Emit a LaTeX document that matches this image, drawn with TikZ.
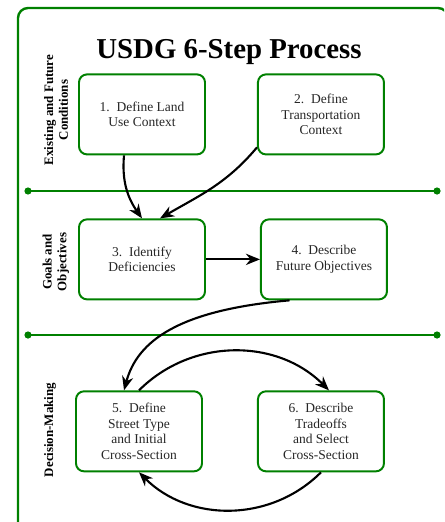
\documentclass[tikz,border=0pt]{standalone}
\usepackage{fontspec}
\setmainfont{Liberation Serif}
\usetikzlibrary{positioning,arrows.meta}

\begin{document}
\begin{tikzpicture}[
  node distance=1.3cm,
  stepbox/.style={rectangle, draw=green!50!black, line width=1.4pt, minimum width=3.15cm, minimum height=2cm, rounded corners=0.2cm, align=center, text=black!85, font=\fontsize{9.6}{11}\selectfont},
  phase/.style={rotate=90, align=center, font=\fontsize{9.2}{10.5}\selectfont\bfseries},
  divider/.style={draw=green!50!black, line width=1.7pt},
  flow/.style={-{Stealth[length=10pt,width=8pt]}, line width=1.5pt}
]
\useasboundingbox (0,0) rectangle (11.1,-13.05);
\clip (0,0) rectangle (11.1,-13.05);
\draw[divider, rounded corners=0.25cm] (0.45,-0.2) rectangle (11.2,-14);

\node[font=\fontsize{20.5}{24}\selectfont\bfseries] (title) at (5.725,-1.3) {USDG 6-Step Process};

\node[stepbox] (landuse) at (3.55,-2.86) {1.\ \ Define Land\\Use Context};
\node[stepbox, right=1.275cm of landuse] (transport) {2.\ \ Define\\Transportation\\Context};
\node[stepbox, below=1.575cm of landuse] (deficiency) {3.\ \ Identify\\Deficiencies};
\node[stepbox, right=1.35cm of deficiency] (objective) {4.\ \ Describe\\Future Objectives};
\node[stepbox, below=2.25cm of deficiency, xshift=-0.075cm] (streettype) {5.\ \ Define\\Street Type\\and Initial\\Cross-Section};
\node[stepbox, right=1.35cm of streettype] (tradeoff) {6.\ \ Describe\\Tradeoffs\\and Select\\Cross-Section};

\node[phase] (existing) at (1.4,-2.75) {Existing and Future\\Conditions};
\node[phase] (goals) at (1.4,-6.55) {Goals and\\Objectives};
\node[phase] (decision) at (1.25,-10.75) {Decision-Making};

% phase dividers
\coordinate (div1a) at (0.7,-4.775);
\coordinate (div1b) at (10.925,-4.775);
\coordinate (div2a) at (0.7,-8.375);
\coordinate (div2b) at (10.925,-8.375);
\draw[divider] (div1a) -- (div1b);
\draw[divider] (div2a) -- (div2b);
\fill[green!50!black] (div1a) circle (0.09) (div1b) circle (0.09) (div2a) circle (0.09) (div2b) circle (0.09);

\draw[flow] ([xshift=-0.45cm]landuse.south) to[out=-95,in=125] (deficiency.north);
\draw[flow] ([yshift=0.2cm]transport.south west) to[out=-130,in=30] ([xshift=0.45cm]deficiency.north);
\draw[flow] (deficiency) -- (objective);
\draw[flow] ([xshift=-0.86cm]objective.south) to[out=185,in=75,out looseness=1.5,in looseness=0.7] ([xshift=-0.375cm]streettype.north);
\draw[flow] (streettype.north) to[bend left=45] ([xshift=0.2cm]tradeoff.north);
\draw[flow] (tradeoff.south) to[bend left=45] (streettype.south);
\end{tikzpicture}
\end{document}
